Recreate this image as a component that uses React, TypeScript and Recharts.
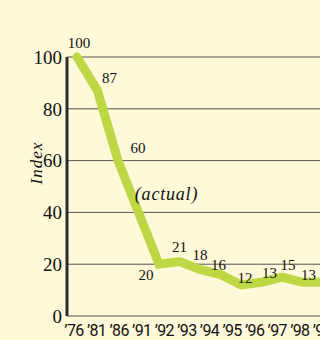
import React from 'react';
import { LineChart, Line, XAxis, YAxis, CartesianGrid, LabelList, ReferenceDot } from 'recharts';

// Survey years and the index value for each
const years = ['’76', '’81', '’86', '’91', '’92', '’93', '’94', '’95', '’96', '’97', '’98', '’99', '’00'];
const indexValues = [100, 87, 60, 40, 20, 21, 18, 16, 12, 13, 15, 13, 13];
const yTicks = [0, 20, 40, 60, 80, 100];
const unlabeledYears = ['’91', '’00'];

const data = years.map((year, i) => ({ year, index: indexValues[i] }));

// per-vertex nudges for the value labels: [dx, dy to text baseline]
const labelNudge: [number, number][] = [
  [2, -9], [12, -8], [20, -8], [0, 0], [-13, 16], [0, -10], [0, -9],
  [-2, -5], [4, -2], [8, -4], [6, -7], [6, -2], [0, -8],
];

const BG = '#fef9d8';
const LINE = '#bed744';
const SERIF = '"Liberation Serif", "DejaVu Serif", serif';
const SANS = 'Roboto, "Liberation Sans", sans-serif';

const ValueLabel = (props: any) => {
  const { x, y, value, index } = props;
  if (unlabeledYears.includes(years[index])) return null;
  const [dx, dy] = labelNudge[index] || [0, -8];
  return (
    <text x={x + dx} y={y + dy} textAnchor="middle" fontFamily={SERIF} fontSize={15} fill="#111">
      {value}
    </text>
  );
};

const ActualLabel = (props: any) => {
  const vb = props.viewBox || { x: 0, y: 0 };
  return (
    <text
      x={vb.x + 28}
      y={vb.y - 12}
      textAnchor="middle"
      fontFamily={SERIF}
      fontStyle="italic"
      fontSize={18}
      letterSpacing={0.8}
      fill="#111"
    >
      (actual)
    </text>
  );
};

const IndexTitle = () => (
  <text
    x={42}
    y={163}
    transform="rotate(-90 42 163)"
    textAnchor="middle"
    fontFamily={SERIF}
    fontStyle="italic"
    fontSize={17}
    letterSpacing={1}
    fill="#111"
  >
    Index
  </text>
);

// year tick drawn with its baseline near the bottom edge
const YearTick = (props: any) => {
  const { x, payload } = props;
  return (
    <text x={x} y={336} textAnchor="middle" fontFamily={SANS} fontSize={16} letterSpacing={-0.6} fill="#111">
      {payload.value}
    </text>
  );
};

export default function App() {
  return (
    <div style={{ position: 'fixed', left: 0, top: 0, width: 320, height: 340, overflow: 'hidden', background: BG }}>
      <LineChart width={380} height={340} data={data} margin={{ top: 57, right: 0, bottom: 0, left: 0 }}>
        <CartesianGrid vertical={false} stroke="#555" strokeWidth={1} xAxisId="yr" />
        <XAxis
          xAxisId="yr"
          dataKey="year"
          interval={0}
          padding={{ left: 7, right: 35 }}
          height={24}
          tickLine={false}
          axisLine={{ stroke: '#2d2d2d', strokeWidth: 2 }}
          tick={<YearTick />}
        />
        <XAxis xAxisId="pts" dataKey="year" hide padding={{ left: 10, right: 57 }} />
        <YAxis
          domain={[0, 100]}
          ticks={yTicks}
          width={67}
          tickLine={false}
          tickSize={0}
          tickMargin={5}
          axisLine={{ stroke: '#2d2d2d', strokeWidth: 3 }}
          tick={{ fontFamily: SERIF, fontSize: 19, fill: '#111' }}
          label={<IndexTitle />}
        />
        <Line
          xAxisId="pts"
          type="linear"
          dataKey="index"
          stroke={LINE}
          strokeWidth={9}
          strokeLinecap="round"
          strokeLinejoin="miter"
          dot={false}
          activeDot={false}
          isAnimationActive={false}
        >
          <LabelList dataKey="index" content={<ValueLabel />} />
        </Line>
        <ReferenceDot xAxisId="pts" x="’91" y={40} r={0} fill="none" stroke="none" label={<ActualLabel />} />
      </LineChart>
    </div>
  );
}
